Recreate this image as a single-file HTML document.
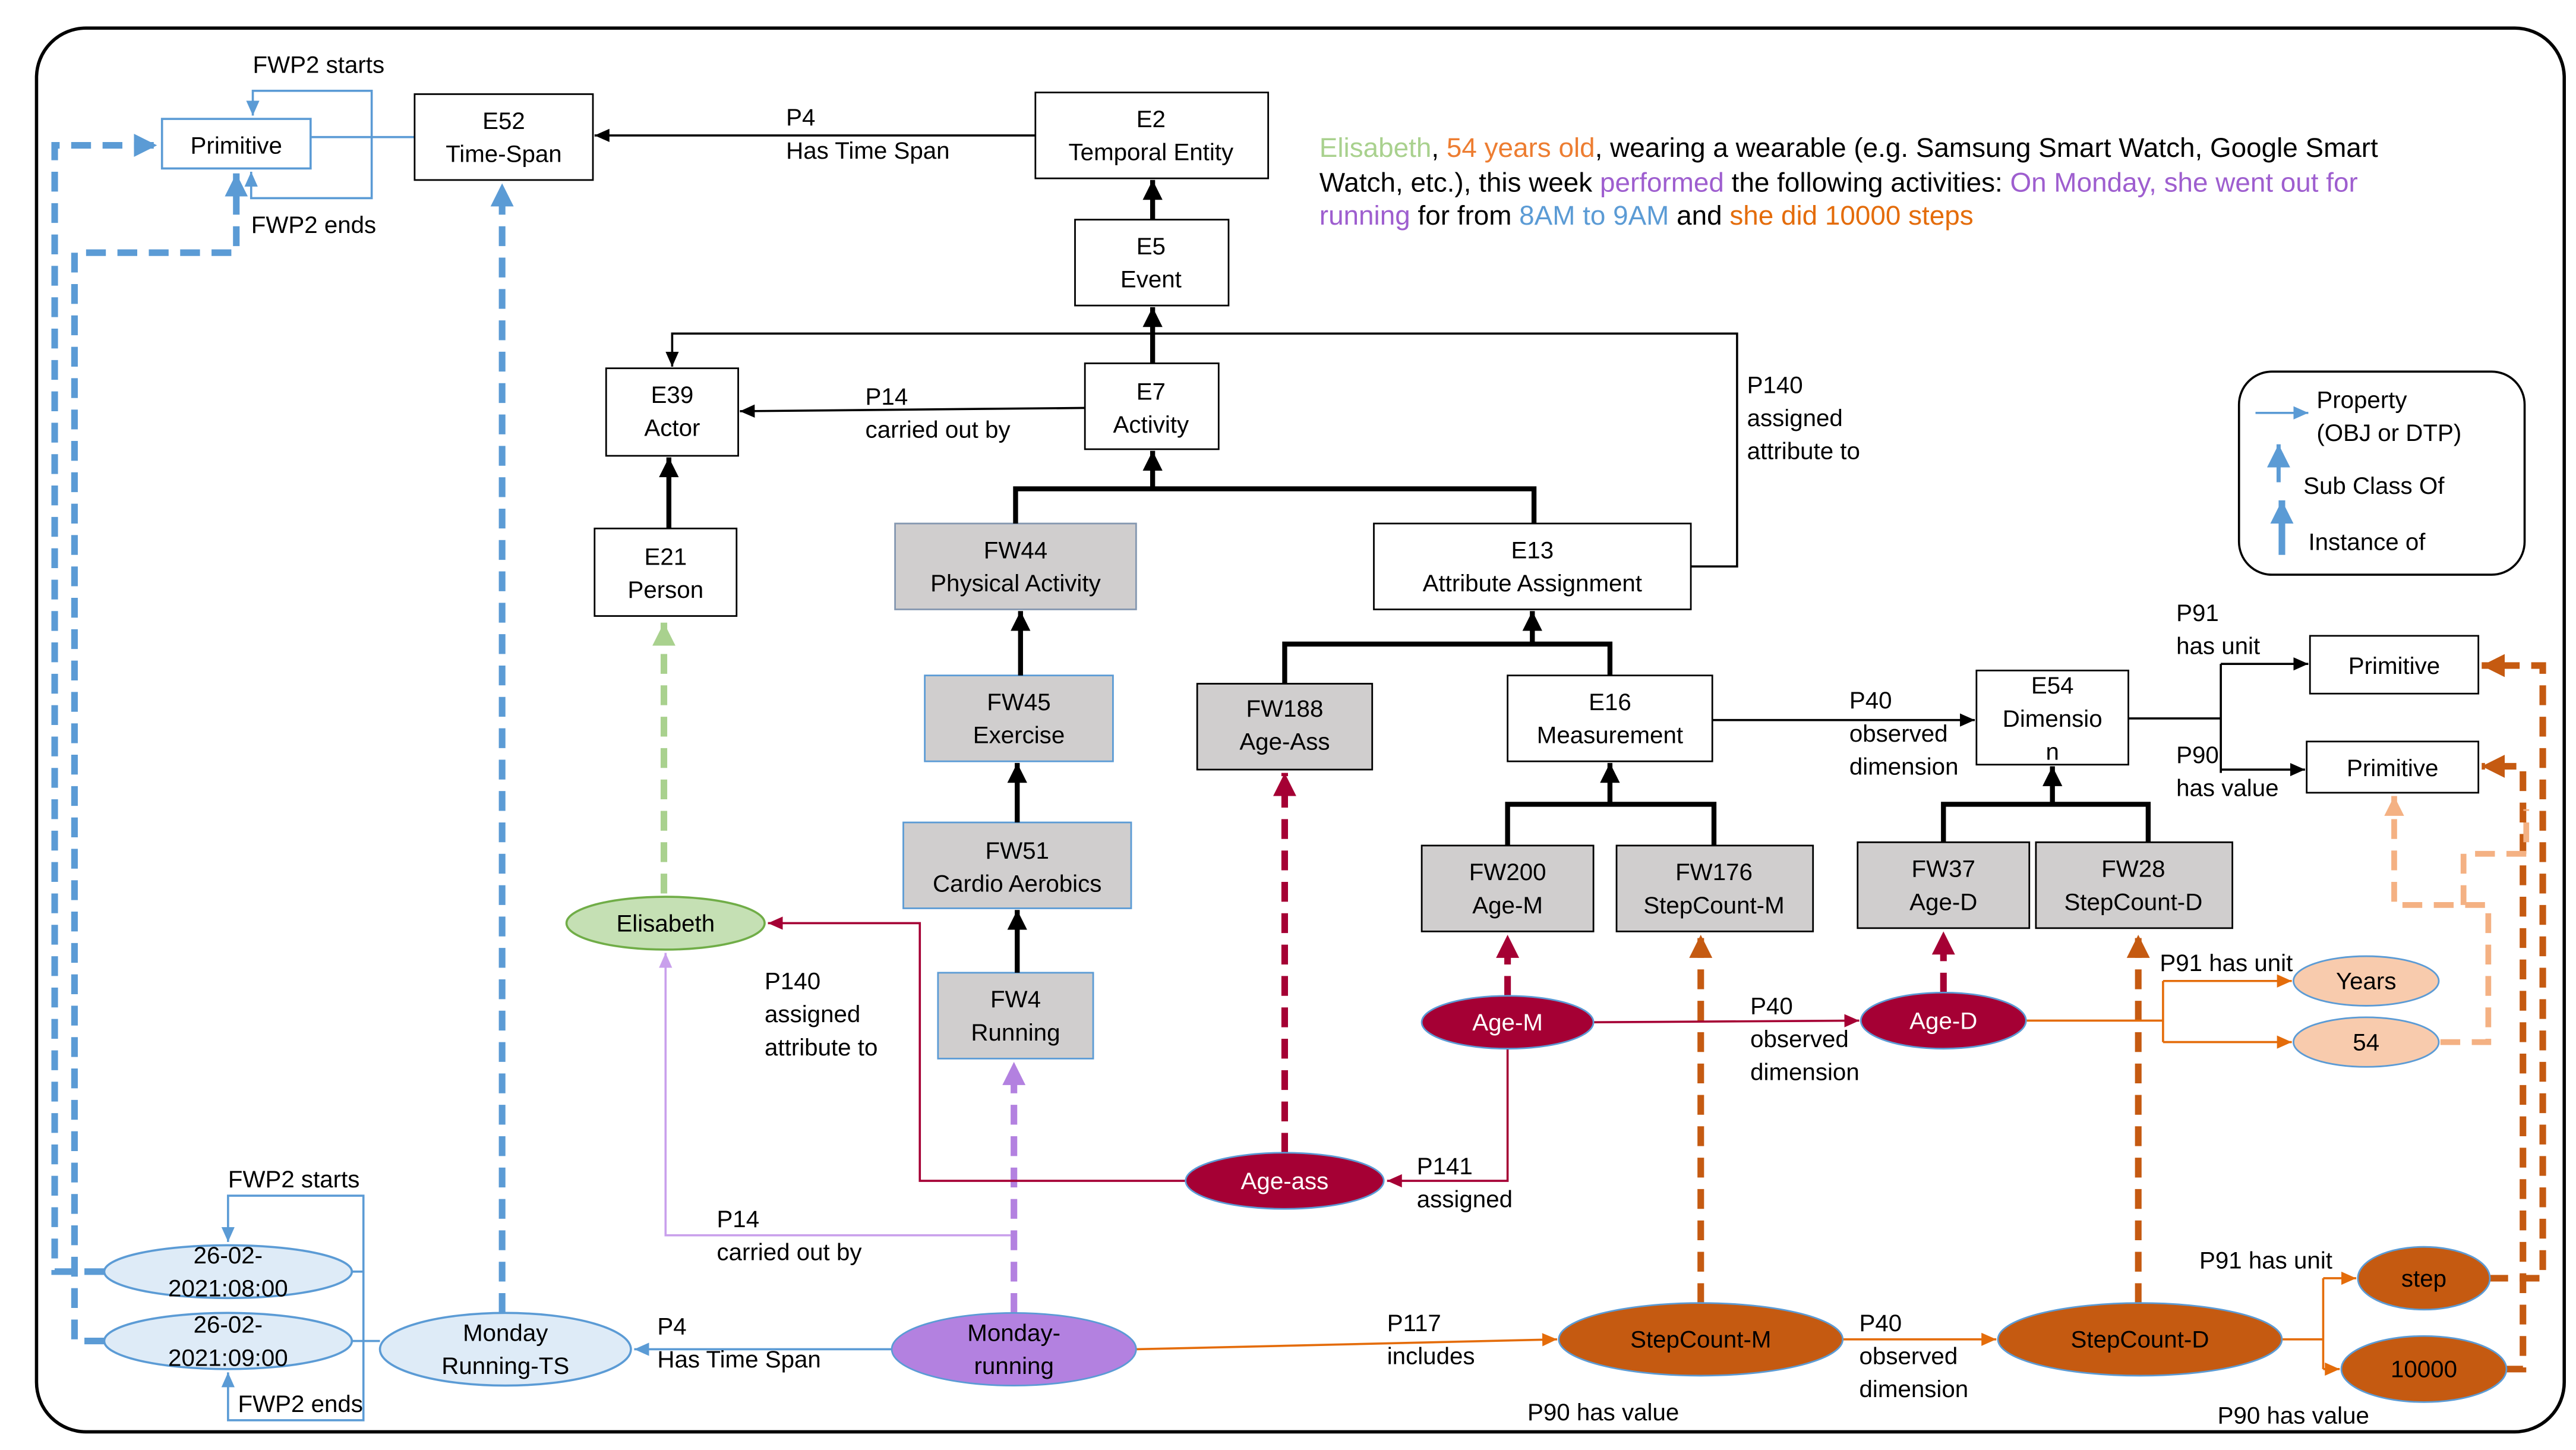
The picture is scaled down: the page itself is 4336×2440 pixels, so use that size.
<!DOCTYPE html>
<html><head><meta charset="utf-8"><style>
html,body{margin:0;padding:0;background:#fff}
svg{display:block}
text{font-family:"Liberation Sans",sans-serif;font-size:14.5px;fill:#000}
.c{text-anchor:middle}
.w{fill:#fff}
</style></head><body>
<svg width="4336" height="2440" viewBox="0 0 1560 878" xmlns="http://www.w3.org/2000/svg">
<defs>
<marker id="mk" markerUnits="userSpaceOnUse" markerWidth="10" markerHeight="10" refX="9" refY="5" orient="auto"><path d="M0,1 L9,5 L0,9 z" fill="#000"/></marker>
<marker id="mkT" markerUnits="userSpaceOnUse" markerWidth="14" markerHeight="14" refX="12" refY="7" orient="auto"><path d="M0,1 L12,7 L0,13 z" fill="#000"/></marker>
<marker id="mb" markerUnits="userSpaceOnUse" markerWidth="10" markerHeight="10" refX="9" refY="5" orient="auto"><path d="M0,1 L9,5 L0,9 z" fill="#5b9bd5"/></marker>
<marker id="mbT" markerUnits="userSpaceOnUse" markerWidth="16" markerHeight="16" refX="14" refY="8" orient="auto"><path d="M0,1 L14,8 L0,15 z" fill="#5b9bd5"/></marker>
<marker id="mr" markerUnits="userSpaceOnUse" markerWidth="10" markerHeight="10" refX="9" refY="5" orient="auto"><path d="M0,1 L9,5 L0,9 z" fill="#a50034"/></marker>
<marker id="mrT" markerUnits="userSpaceOnUse" markerWidth="16" markerHeight="16" refX="14" refY="8" orient="auto"><path d="M0,1 L14,8 L0,15 z" fill="#a50034"/></marker>
<marker id="mo" markerUnits="userSpaceOnUse" markerWidth="10" markerHeight="10" refX="9" refY="5" orient="auto"><path d="M0,1 L9,5 L0,9 z" fill="#e46c0a"/></marker>
<marker id="moT" markerUnits="userSpaceOnUse" markerWidth="16" markerHeight="16" refX="14" refY="8" orient="auto"><path d="M0,1 L14,8 L0,15 z" fill="#c55a11"/></marker>
<marker id="mlo" markerUnits="userSpaceOnUse" markerWidth="14" markerHeight="14" refX="12" refY="7" orient="auto"><path d="M0,1 L12,7 L0,13 z" fill="#f4b183"/></marker>
<marker id="mp" markerUnits="userSpaceOnUse" markerWidth="10" markerHeight="10" refX="9" refY="5" orient="auto"><path d="M0,1 L9,5 L0,9 z" fill="#c9a0ec"/></marker>
<marker id="mpT" markerUnits="userSpaceOnUse" markerWidth="16" markerHeight="16" refX="14" refY="8" orient="auto"><path d="M0,1 L14,8 L0,15 z" fill="#b381e0"/></marker>
<marker id="mg" markerUnits="userSpaceOnUse" markerWidth="16" markerHeight="16" refX="14" refY="8" orient="auto"><path d="M0,1 L14,8 L0,15 z" fill="#a9d18e"/></marker>
</defs>

<rect x="22" y="17" width="1531" height="850" rx="30" fill="none" stroke="#000" stroke-width="2"/>

<!-- top-left primitive -->
<rect x="98" y="72" width="90" height="30" fill="#fff" stroke="#5b9bd5" stroke-width="1.3"/>
<text x="143" y="93" class="c">Primitive</text>
<path d="M188,83 H251 M225,83 V55 H153 V70" fill="none" stroke="#5b9bd5" stroke-width="1.3" marker-end="url(#mb)"/>
<path d="M225,83 V120 H152 V104" fill="none" stroke="#5b9bd5" stroke-width="1.3" marker-end="url(#mb)"/>
<text x="153" y="44">FWP2 starts</text>
<text x="152" y="141">FWP2 ends</text>

<!-- E52 -->
<rect x="251" y="57" width="108" height="52" fill="#fff" stroke="#000"/>
<text x="305" y="78" class="c">E52</text><text x="305" y="98" class="c">Time-Span</text>
<!-- E2 -->
<rect x="627" y="56" width="141" height="52" fill="#fff" stroke="#000"/>
<text x="697" y="77" class="c">E2</text><text x="697" y="97" class="c">Temporal Entity</text>
<path d="M627,82 H360" stroke="#000" stroke-width="1.3" marker-end="url(#mk)"/>
<text x="476" y="76">P4</text><text x="476" y="96">Has Time Span</text>
<!-- E5 -->
<rect x="651" y="133" width="93" height="52" fill="#fff" stroke="#000"/>
<text x="697" y="154" class="c">E5</text><text x="697" y="174" class="c">Event</text>
<path d="M698,133 V109" stroke="#000" stroke-width="3" marker-end="url(#mkT)"/>
<!-- E7 -->
<rect x="657" y="220" width="81" height="52" fill="#fff" stroke="#000"/>
<text x="697" y="242" class="c">E7</text><text x="697" y="262" class="c">Activity</text>
<path d="M698,220 V186" stroke="#000" stroke-width="3" marker-end="url(#mkT)"/>
<path d="M698,202 H407 V222" fill="none" stroke="#000" stroke-width="1.3" marker-end="url(#mk)"/>
<path d="M698,202 H1052 V343 H1024" fill="none" stroke="#000" stroke-width="1.3"/>
<text x="1058" y="238">P140</text><text x="1058" y="258">assigned</text><text x="1058" y="278">attribute to</text>
<!-- E39 -->
<rect x="367" y="223" width="80" height="53" fill="#fff" stroke="#000"/>
<text x="407" y="244" class="c">E39</text><text x="407" y="264" class="c">Actor</text>
<path d="M657,247 L448,249" stroke="#000" stroke-width="1.3" marker-end="url(#mk)"/>
<text x="524" y="245">P14</text><text x="524" y="265">carried out by</text>
<!-- E21 -->
<rect x="360" y="320" width="86" height="53" fill="#fff" stroke="#000"/>
<text x="403" y="342" class="c">E21</text><text x="403" y="362" class="c">Person</text>
<path d="M405,320 V277" stroke="#000" stroke-width="3" marker-end="url(#mkT)"/>

<!-- FW44 / E13 -->
<rect x="542" y="317" width="146" height="52" fill="#d0cece" stroke="#8497b0"/>
<text x="615" y="338" class="c">FW44</text><text x="615" y="358" class="c">Physical  Activity</text>
<rect x="832" y="317" width="192" height="52" fill="#fff" stroke="#000"/>
<text x="928" y="338" class="c">E13</text><text x="928" y="358" class="c">Attribute Assignment</text>
<path d="M615,317 V296 H929 V317" fill="none" stroke="#000" stroke-width="3"/>
<path d="M698,296 V273" stroke="#000" stroke-width="3" marker-end="url(#mkT)"/>
<!-- FW45 -->
<rect x="560" y="409" width="114" height="52" fill="#d0cece" stroke="#5b9bd5"/>
<text x="617" y="430" class="c">FW45</text><text x="617" y="450" class="c">Exercise</text>
<path d="M618,409 V370" stroke="#000" stroke-width="3" marker-end="url(#mkT)"/>
<!-- FW51 -->
<rect x="547" y="498" width="138" height="52" fill="#d0cece" stroke="#5b9bd5"/>
<text x="616" y="520" class="c">FW51</text><text x="616" y="540" class="c">Cardio Aerobics</text>
<path d="M616,498 V462" stroke="#000" stroke-width="3" marker-end="url(#mkT)"/>
<!-- FW4 -->
<rect x="568" y="589" width="94" height="52" fill="#d0cece" stroke="#5b9bd5"/>
<text x="615" y="610" class="c">FW4</text><text x="615" y="630" class="c">Running</text>
<path d="M616,589 V551" stroke="#000" stroke-width="3" marker-end="url(#mkT)"/>

<!-- FW188 / E16 -->
<rect x="725" y="414" width="106" height="52" fill="#d0cece" stroke="#000"/>
<text x="778" y="434" class="c">FW188</text><text x="778" y="454" class="c">Age-Ass</text>
<rect x="913" y="409" width="124" height="52" fill="#fff" stroke="#000"/>
<text x="975" y="430" class="c">E16</text><text x="975" y="450" class="c">Measurement</text>
<path d="M778,414 V390 H975 V409" fill="none" stroke="#000" stroke-width="3"/>
<path d="M928,390 V370" stroke="#000" stroke-width="3" marker-end="url(#mkT)"/>
<!-- E54 -->
<rect x="1197" y="406" width="92" height="57" fill="#fff" stroke="#000"/>
<text x="1243" y="420" class="c">E54</text><text x="1243" y="440" class="c">Dimensio</text><text x="1243" y="460" class="c">n</text>
<path d="M1037,436 H1196" stroke="#000" stroke-width="1.3" marker-end="url(#mk)"/>
<text x="1120" y="429">P40</text><text x="1120" y="449">observed</text><text x="1120" y="469">dimension</text>
<path d="M1289,435 H1345 M1345,402 V468" fill="none" stroke="#000" stroke-width="1.3"/>
<path d="M1345,402 H1398" stroke="#000" stroke-width="1.3" marker-end="url(#mk)"/>
<path d="M1345,466 H1396" stroke="#000" stroke-width="1.3" marker-end="url(#mk)"/>
<text x="1318" y="376">P91</text><text x="1318" y="396">has unit</text>
<text x="1318" y="462">P90</text><text x="1318" y="482">has value</text>
<rect x="1399" y="385" width="102" height="35" fill="#fff" stroke="#000"/>
<text x="1450" y="408" class="c">Primitive</text>
<rect x="1397" y="449" width="104" height="31" fill="#fff" stroke="#000"/>
<text x="1449" y="470" class="c">Primitive</text>

<!-- FW200 FW176 -->
<rect x="861" y="512" width="104" height="52" fill="#d0cece" stroke="#000"/>
<text x="913" y="533" class="c">FW200</text><text x="913" y="553" class="c">Age-M</text>
<rect x="979" y="512" width="119" height="52" fill="#d0cece" stroke="#000"/>
<text x="1038" y="533" class="c">FW176</text><text x="1038" y="553" class="c">StepCount-M</text>
<path d="M913,512 V487 H1038 V512" fill="none" stroke="#000" stroke-width="3"/>
<path d="M975,487 V462" stroke="#000" stroke-width="3" marker-end="url(#mkT)"/>
<!-- FW37 FW28 -->
<rect x="1125" y="510" width="104" height="52" fill="#d0cece" stroke="#000"/>
<text x="1177" y="531" class="c">FW37</text><text x="1177" y="551" class="c">Age-D</text>
<rect x="1233" y="510" width="119" height="52" fill="#d0cece" stroke="#000"/>
<text x="1292" y="531" class="c">FW28</text><text x="1292" y="551" class="c">StepCount-D</text>
<path d="M1177,510 V487 H1301 V510" fill="none" stroke="#000" stroke-width="3"/>
<path d="M1243,487 V464" stroke="#000" stroke-width="3" marker-end="url(#mkT)"/>

<!-- legend -->
<rect x="1356" y="225" width="173" height="123" rx="20" fill="#fff" stroke="#000" stroke-width="1.3"/>
<path d="M1366,250 H1398" stroke="#5b9bd5" stroke-width="1.3" marker-end="url(#mb)"/>
<text x="1403" y="247">Property</text><text x="1403" y="267">(OBJ or DTP)</text>
<path d="M1380,292 V269" stroke="#5b9bd5" stroke-width="2.5" marker-end="url(#mbT)"/>
<text x="1395" y="299">Sub Class Of</text>
<path d="M1382,336 V303" stroke="#5b9bd5" stroke-width="4" marker-end="url(#mbT)"/>
<text x="1398" y="333">Instance of</text>

<!-- paragraph -->
<text x="799" y="95" style="font-size:16.5px"><tspan fill="#a9d18e">Elisabeth</tspan>, <tspan fill="#ed7d31">54 years old</tspan>, wearing a wearable (e.g. Samsung Smart Watch, Google Smart</text>
<text x="799" y="116" style="font-size:16.5px">Watch, etc.), this week <tspan fill="#9e5ecf">performed</tspan> the following activities: <tspan fill="#9e5ecf">On Monday, she went out for</tspan></text>
<text x="799" y="136" style="font-size:16.5px"><tspan fill="#9e5ecf">running</tspan> for from <tspan fill="#5b9bd5">8AM to 9AM</tspan> and <tspan fill="#e46c0a">she did 10000 steps</tspan></text>

<!-- dashed instance arrows -->
<path d="M402,541 V377" stroke="#a9d18e" stroke-width="4" stroke-dasharray="12,7" marker-end="url(#mg)"/>
<path d="M778,698 V468" stroke="#a50034" stroke-width="4" stroke-dasharray="12,7" marker-end="url(#mrT)"/>
<path d="M913,603 V566" stroke="#a50034" stroke-width="4" stroke-dasharray="12,7" marker-end="url(#mrT)"/>
<path d="M1177,601 V564" stroke="#a50034" stroke-width="4" stroke-dasharray="12,7" marker-end="url(#mrT)"/>
<path d="M1030,789 V566" stroke="#c55a11" stroke-width="4" stroke-dasharray="12,7" marker-end="url(#moT)"/>
<path d="M1295,789 V566" stroke="#c55a11" stroke-width="4" stroke-dasharray="12,7" marker-end="url(#moT)"/>
<path d="M614,795 V643" stroke="#b381e0" stroke-width="4" stroke-dasharray="12,7" marker-end="url(#mpT)"/>
<path d="M304,795 V111" stroke="#5b9bd5" stroke-width="4" stroke-dasharray="12,7" marker-end="url(#mbT)"/>
<path d="M63,770 H33 V88 H95" fill="none" stroke="#5b9bd5" stroke-width="4" stroke-dasharray="12,7" marker-end="url(#mbT)"/>
<path d="M63,812 H45 V153 H143 V105" fill="none" stroke="#5b9bd5" stroke-width="4" stroke-dasharray="12,7" marker-end="url(#mbT)"/>
<path d="M1507,774 H1540 V403 H1503" fill="none" stroke="#c55a11" stroke-width="4" stroke-dasharray="12,7" marker-end="url(#moT)"/>
<path d="M1517,829 H1528 V464 H1503" fill="none" stroke="#c55a11" stroke-width="4" stroke-dasharray="12,7" marker-end="url(#moT)"/>
<path d="M1478,631 H1507 V548 H1450 V482" fill="none" stroke="#f4b183" stroke-width="3.5" stroke-dasharray="12,7" marker-end="url(#mlo)"/>
<path d="M1492,548 V517 H1530 V490" fill="none" stroke="#f4b183" stroke-width="3.5" stroke-dasharray="12,7"/>

<!-- thin connectors -->
<path d="M965,619 L1126,618" stroke="#a50034" stroke-width="1.3" marker-end="url(#mr)"/>
<text x="1060" y="614">P40</text><text x="1060" y="634">observed</text><text x="1060" y="654">dimension</text>
<path d="M913,635 V715 H840" fill="none" stroke="#a50034" stroke-width="1.3" marker-end="url(#mr)"/>
<text x="858" y="711">P141</text><text x="858" y="731">assigned</text>
<path d="M718,715 H557 V559 H465" fill="none" stroke="#a50034" stroke-width="1.3" marker-end="url(#mr)"/>
<text x="463" y="599">P140</text><text x="463" y="619">assigned</text><text x="463" y="639">attribute to</text>
<path d="M1227,618 H1310 M1310,594 V631" fill="none" stroke="#e46c0a" stroke-width="1.3"/>
<path d="M1310,594 H1388" stroke="#e46c0a" stroke-width="1.3" marker-end="url(#mo)"/>
<path d="M1310,631 H1388" stroke="#e46c0a" stroke-width="1.3" marker-end="url(#mo)"/>
<text x="1308" y="588">P91 has unit</text>
<path d="M1116,811 H1209" stroke="#e46c0a" stroke-width="1.3" marker-end="url(#mo)"/>
<text x="1126" y="806">P40</text><text x="1126" y="826">observed</text><text x="1126" y="846">dimension</text>
<path d="M1382,811 H1407 M1407,774 V829" fill="none" stroke="#e46c0a" stroke-width="1.3"/>
<path d="M1407,774 H1427" stroke="#e46c0a" stroke-width="1.3" marker-end="url(#mo)"/>
<path d="M1407,829 H1417" stroke="#e46c0a" stroke-width="1.3" marker-end="url(#mo)"/>
<text x="1332" y="768">P91 has unit</text>
<text x="1343" y="862">P90 has value</text>
<text x="925" y="860">P90 has value</text>
<path d="M688,817 L943,811" stroke="#e46c0a" stroke-width="1.3" marker-end="url(#mo)"/>
<text x="840" y="806">P117</text><text x="840" y="826">includes</text>
<path d="M540,817 H384" stroke="#5b9bd5" stroke-width="1.3" marker-end="url(#mb)"/>
<text x="398" y="808">P4</text><text x="398" y="828">Has Time Span</text>
<path d="M612,748 H403 V577" fill="none" stroke="#c9a0ec" stroke-width="1.3" marker-end="url(#mp)"/>
<text x="434" y="743">P14</text><text x="434" y="763">carried out by</text>
<path d="M212,770 H220 V724 H138 V752" fill="none" stroke="#5b9bd5" stroke-width="1.3" marker-end="url(#mb)"/>
<path d="M220,770 V860 H138 V831" fill="none" stroke="#5b9bd5" stroke-width="1.3" marker-end="url(#mb)"/>
<path d="M213,812 H230" stroke="#5b9bd5" stroke-width="1.3"/>
<text x="138" y="719">FWP2 starts</text>
<text x="144" y="855">FWP2 ends</text>

<!-- ellipses -->
<ellipse cx="403" cy="559" rx="60" ry="16" fill="#c5e0b4" stroke="#70ad47" stroke-width="1.3"/>
<text x="403" y="564" class="c">Elisabeth</text>
<ellipse cx="913" cy="619" rx="52" ry="16" fill="#a50034" stroke="#5b9bd5" stroke-width="1"/>
<text x="913" y="624" class="c w">Age-M</text>
<ellipse cx="1177" cy="618" rx="50" ry="17" fill="#a50034" stroke="#5b9bd5" stroke-width="1"/>
<text x="1177" y="623" class="c w">Age-D</text>
<ellipse cx="778" cy="715" rx="60" ry="17" fill="#a50034" stroke="#5b9bd5" stroke-width="1"/>
<text x="778" y="720" class="c w">Age-ass</text>
<ellipse cx="1433" cy="594" rx="44" ry="15" fill="#f8cbad" stroke="#5b9bd5" stroke-width="1"/>
<text x="1433" y="599" class="c">Years</text>
<ellipse cx="1433" cy="631" rx="44" ry="15" fill="#f8cbad" stroke="#5b9bd5" stroke-width="1"/>
<text x="1433" y="636" class="c">54</text>
<ellipse cx="1030" cy="811" rx="86" ry="22" fill="#c55a11" stroke="#5b9bd5" stroke-width="1"/>
<text x="1030" y="816" class="c">StepCount-M</text>
<ellipse cx="1296" cy="811" rx="86" ry="22" fill="#c55a11" stroke="#5b9bd5" stroke-width="1"/>
<text x="1296" y="816" class="c">StepCount-D</text>
<ellipse cx="1468" cy="774" rx="40" ry="19" fill="#c55a11" stroke="#5b9bd5" stroke-width="1"/>
<text x="1468" y="779" class="c">step</text>
<ellipse cx="1468" cy="829" rx="50" ry="20" fill="#c55a11" stroke="#5b9bd5" stroke-width="1"/>
<text x="1468" y="834" class="c">10000</text>
<ellipse cx="614" cy="817" rx="74" ry="22" fill="#b381e0" stroke="#5b9bd5" stroke-width="1"/>
<text x="614" y="812" class="c">Monday-</text><text x="614" y="832" class="c">running</text>
<ellipse cx="306" cy="817" rx="76" ry="22" fill="#deebf7" stroke="#5b9bd5" stroke-width="1.3"/>
<text x="306" y="812" class="c">Monday</text><text x="306" y="832" class="c">Running-TS</text>
<ellipse cx="138" cy="770" rx="75" ry="16" fill="#deebf7" stroke="#5b9bd5" stroke-width="1.3"/>
<text x="138" y="765" class="c">26-02-</text><text x="138" y="785" class="c">2021:08:00</text>
<ellipse cx="138" cy="812" rx="75" ry="17" fill="#deebf7" stroke="#5b9bd5" stroke-width="1.3"/>
<text x="138" y="807" class="c">26-02-</text><text x="138" y="827" class="c">2021:09:00</text>
</svg>
</body></html>
